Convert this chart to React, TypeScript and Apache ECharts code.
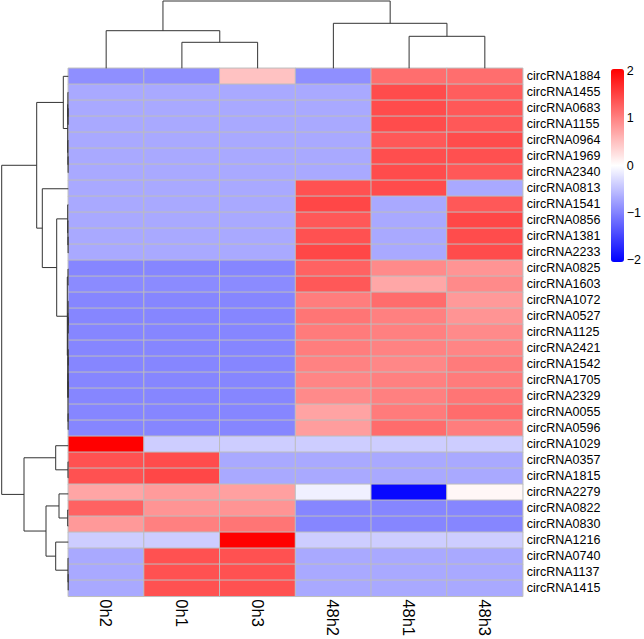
import React, { useEffect, useRef } from "react";
import * as echarts from "echarts";

// ---- data ----
const columns = ["0h2", "0h1", "0h3", "48h2", "48h1", "48h3"];

const rows = [
  "circRNA1884", "circRNA1455", "circRNA0683", "circRNA1155", "circRNA0964", "circRNA1969",
  "circRNA2340", "circRNA0813", "circRNA1541", "circRNA0856", "circRNA1381", "circRNA2233",
  "circRNA0825", "circRNA1603", "circRNA1072", "circRNA0527", "circRNA1125", "circRNA2421",
  "circRNA1542", "circRNA1705", "circRNA2329", "circRNA0055", "circRNA0596", "circRNA1029",
  "circRNA0357", "circRNA1815", "circRNA2279", "circRNA0822", "circRNA0830", "circRNA1216",
  "circRNA0740", "circRNA1137", "circRNA1415",
];

// row-scaled expression (z-score), one array per column, rows in display order
const v0h2 = [
  -0.90, -0.69, -0.69, -0.69, -0.69, -0.69, -0.69, -0.69, -0.69, -0.69, -0.69, -0.69,
  -0.97, -0.93, -0.97, -0.97, -0.97, -0.97, -0.97, -0.97, -0.97, -0.97, -0.97,
  2.04, 1.39, 1.39, 0.72, 1.26, 0.82, -0.40, -0.69, -0.69, -0.69,
];
const v0h1 = [
  -0.90, -0.69, -0.69, -0.69, -0.69, -0.69, -0.69, -0.69, -0.69, -0.69, -0.69, -0.69,
  -0.97, -0.93, -0.97, -0.97, -0.97, -0.97, -0.97, -0.97, -0.97, -0.97, -0.97,
  -0.40, 1.43, 1.47, 0.80, 0.86, 1.02, -0.40, 1.39, 1.39, 1.39,
];
const v0h3 = [
  0.49, -0.69, -0.69, -0.69, -0.69, -0.69, -0.69, -0.69, -0.69, -0.69, -0.69, -0.69,
  -0.97, -0.93, -0.97, -0.97, -0.97, -0.97, -0.97, -0.97, -0.97, -0.97, -0.97,
  -0.40, -0.69, -0.69, 0.76, 0.86, 1.10, 2.04, 1.39, 1.39, 1.39,
];
const v48h2 = [
  -0.90, -0.69, -0.69, -0.69, -0.69, -0.69, -0.69, 1.39, 1.47, 1.34, 1.39, 1.47,
  1.26, 1.34, 1.04, 1.10, 1.06, 1.04, 1.00, 0.98, 0.94, 0.74, 0.78,
  -0.40, -0.69, -0.69, -0.12, -0.97, -0.97, -0.40, -0.69, -0.69, -0.69,
];
const v48h1 = [
  1.16, 1.43, 1.43, 1.43, 1.34, 1.42, 1.43, 1.43, -0.69, -0.69, -0.69, -0.69,
  0.94, 0.70, 1.18, 1.02, 1.02, 1.00, 0.96, 1.02, 1.02, 1.06, 1.18,
  -0.40, -0.69, -0.69, -1.98, -0.97, -0.97, -0.40, -0.69, -0.69, -0.69,
];
const v48h3 = [
  1.16, 1.30, 1.34, 1.34, 1.43, 1.40, 1.34, -0.69, 1.34, 1.47, 1.43, 1.43,
  0.86, 0.94, 0.82, 0.86, 0.94, 0.98, 1.06, 1.06, 1.10, 1.18, 1.04,
  -0.40, -0.69, -0.69, 0.06, -0.97, -0.97, -0.40, -0.69, -0.69, -0.69,
];
const columnValues = [v0h2, v0h1, v0h3, v48h2, v48h1, v48h3];

// hclust-style merges: [childA, childB, height]; negative = leaf (1-based display order), positive = earlier merge
const colMerges: [number, number, number][] = [
  [-2, -3, 26.0],
  [-1, 1, 37.6],
  [-5, -6, 32.0],
  [-4, 3, 45.0],
  [2, 4, 67.3],
];

const rowMerges: [number, number, number][] = [
  [-11, -12, 0.2],
  [-10, 1, 0.4],
  [-9, 2, 0.6],
  [-3, -4, 0.2],
  [-2, 4, 0.4],
  [-6, -7, 0.2],
  [-5, 6, 0.4],
  [5, 7, 0.6],
  [-1, 8, 5.0],
  [-13, -14, 0.3],
  [-16, -17, 0.1],
  [-15, 11, 0.2],
  [-18, -19, 0.1],
  [-20, -21, 0.1],
  [13, 14, 0.2],
  [-22, -23, 0.2],
  [15, 16, 0.3],
  [12, 17, 0.5],
  [10, 18, 1.0],
  [3, 19, 11.6],
  [-8, 20, 26.0],
  [9, 21, 31.6],
  [-25, -26, 0.3],
  [-24, 23, 12.6],
  [-28, -29, 0.6],
  [-27, 25, 9.3],
  [-32, -33, 0.1],
  [-31, 27, 0.3],
  [-30, 28, 12.6],
  [26, 29, 22.3],
  [24, 30, 44.3],
  [22, 31, 66.6],
];

const legendTicks = [-2, -1, 0, 1, 2];
const colorMin = -2.04;
const colorMax = 2.04;

// ---- helpers ----
function buildSegments(merges: [number, number, number][]) {
  const pos: number[] = [];
  const hts: number[] = [];
  const getP = (id: number) => (id < 0 ? -id - 1 + 0.5 : pos[id - 1]);
  const getH = (id: number) => (id < 0 ? 0 : hts[id - 1]);
  const segs: number[][] = [];
  merges.forEach(([a, b, h], i) => {
    const pa = getP(a);
    const pb = getP(b);
    segs.push([pa, getH(a), pb, getH(b), h]);
    pos[i] = (pa + pb) / 2;
    hts[i] = h;
  });
  return segs;
}

const FONT = "'Liberation Sans', Arial, Helvetica, sans-serif";

// layout
const HM_LEFT = 68.3;
const HM_TOP = 68.3;
const HM_W = 454.4;
const HM_H = 530;

export default function App() {
  const ref = useRef<HTMLDivElement>(null);

  useEffect(() => {
    if (!ref.current) return;
    const chart = echarts.init(ref.current, undefined, { renderer: "svg" });

    const heatData: number[][] = [];
    columns.forEach((_, c) => {
      rows.forEach((__, r) => {
        heatData.push([c, r, columnValues[c][r]]);
      });
    });

    const colSegs = buildSegments(colMerges);
    const rowSegs = buildSegments(rowMerges);
    const lineColor = "#333333";

    const option: any = {
      animation: false,
      backgroundColor: "#ffffff",
      grid: [
        { left: HM_LEFT, top: HM_TOP, width: HM_W, height: HM_H },
        { left: HM_LEFT, top: 0, width: HM_W, height: HM_TOP },
        { left: 0, top: HM_TOP, width: HM_LEFT, height: HM_H },
        { left: 611, top: 69, width: 13, height: 193 },
      ],
      xAxis: [
        {
          type: "category",
          gridIndex: 0,
          data: columns,
          position: "bottom",
          axisLine: { show: false },
          axisTick: { show: false },
          splitLine: { show: false },
          axisLabel: {
            interval: 0,
            rotate: -90,
            margin: 3,
            fontSize: 16.5,
            color: "#000",
            fontFamily: FONT,
          },
        },
        { type: "value", gridIndex: 1, min: 0, max: columns.length, show: false },
        { type: "value", gridIndex: 2, min: 0, max: HM_LEFT, inverse: true, show: false },
        { type: "value", gridIndex: 3, min: 0, max: 1, show: false },
      ],
      yAxis: [
        {
          type: "category",
          gridIndex: 0,
          data: rows,
          inverse: true,
          position: "right",
          axisLine: { show: false },
          axisTick: { show: false },
          splitLine: { show: false },
          axisLabel: {
            interval: 0,
            margin: 4,
            fontSize: 12.5,
            color: "#000",
            fontFamily: FONT,
          },
        },
        { type: "value", gridIndex: 1, min: 0, max: HM_TOP, show: false },
        { type: "value", gridIndex: 2, min: 0, max: rows.length, inverse: true, show: false },
        {
          type: "value",
          gridIndex: 3,
          min: colorMin,
          max: colorMax,
          position: "right",
          axisLine: { show: false },
          axisTick: { show: false },
          splitLine: { show: false },
          axisLabel: {
            customValues: legendTicks,
            margin: 4,
            fontSize: 12.5,
            color: "#000",
            fontFamily: FONT,
            formatter: (v: number) => String(v).replace("-", "\u2212"),
          },
        },
      ],
      visualMap: {
        type: "continuous",
        min: colorMin,
        max: colorMax,
        dimension: 2,
        seriesIndex: 0,
        calculable: false,
        orient: "vertical",
        left: 611,
        top: 69,
        itemWidth: 13,
        itemHeight: 193,
        padding: 0,
        hoverLink: false,
        inRange: { color: ["#0000FF", "#FFFFFF", "#FF0000"] },
      },
      series: [
        {
          type: "heatmap",
          xAxisIndex: 0,
          yAxisIndex: 0,
          data: heatData,
          silent: true,
          itemStyle: { borderColor: "#BDBDBD", borderWidth: 1 },
          emphasis: { disabled: true },
        },
        {
          type: "custom",
          xAxisIndex: 1,
          yAxisIndex: 1,
          coordinateSystem: "cartesian2d",
          data: colSegs,
          clip: false,
          silent: true,
          encode: { x: [0, 2], y: [1, 3, 4] },
          renderItem: (_p: any, api: any) => {
            const p1 = api.value(0), h1 = api.value(1), p2 = api.value(2), h2 = api.value(3), h = api.value(4);
            return {
              type: "polyline",
              shape: {
                points: [api.coord([p1, h1]), api.coord([p1, h]), api.coord([p2, h]), api.coord([p2, h2])],
              },
              style: { stroke: lineColor, lineWidth: 1, fill: "none" },
            };
          },
        },
        {
          type: "custom",
          xAxisIndex: 2,
          yAxisIndex: 2,
          coordinateSystem: "cartesian2d",
          data: rowSegs,
          clip: false,
          silent: true,
          encode: { y: [0, 2], x: [1, 3, 4] },
          renderItem: (_p: any, api: any) => {
            const p1 = api.value(0), h1 = api.value(1), p2 = api.value(2), h2 = api.value(3), h = api.value(4);
            return {
              type: "polyline",
              shape: {
                points: [api.coord([h1, p1]), api.coord([h, p1]), api.coord([h, p2]), api.coord([h2, p2])],
              },
              style: { stroke: lineColor, lineWidth: 1, fill: "none" },
            };
          },
        },
      ],
    };

    chart.setOption(option);
    return () => chart.dispose();
  }, []);

  return (
    <div
      ref={ref}
      style={{ position: "fixed", left: 0, top: 0, width: 644, height: 639, background: "#fff" }}
    />
  );
}
